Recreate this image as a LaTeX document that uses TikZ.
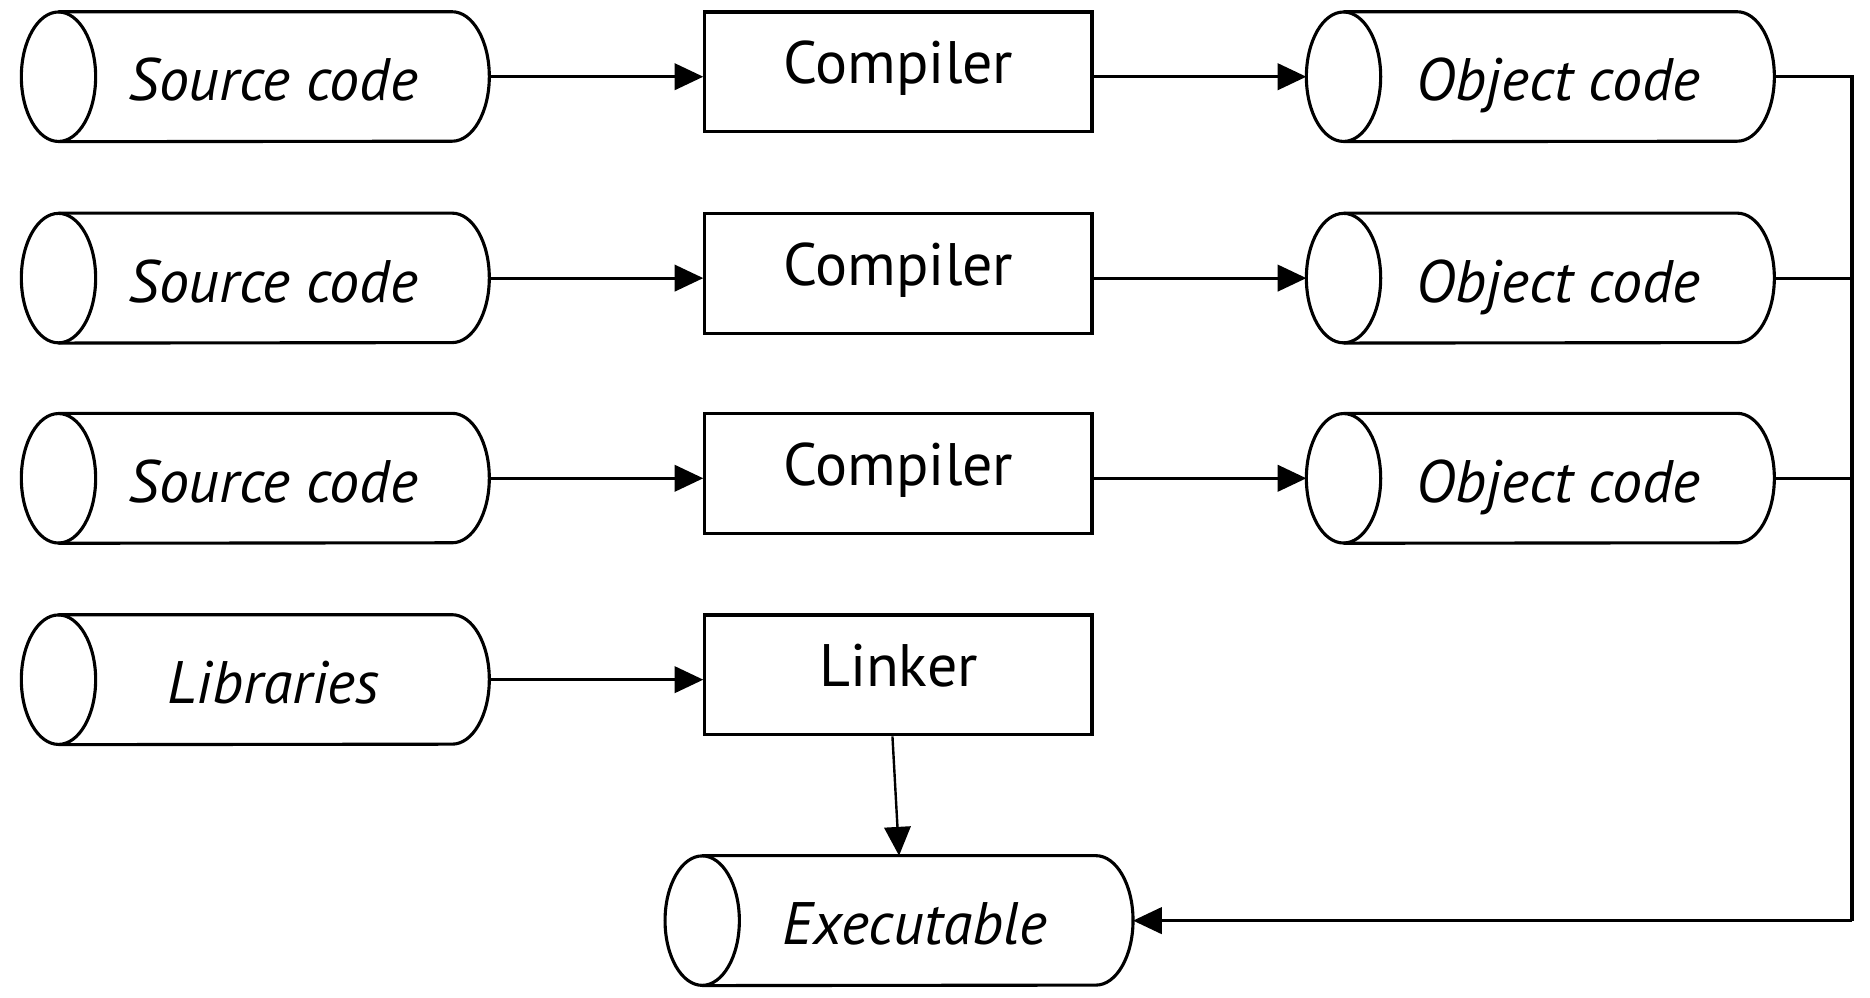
\documentclass[tikz,border=0pt]{standalone}
\usepackage{fontspec}
\setmainfont{PT Sans}
\usetikzlibrary{arrows.meta}
\tikzset{
  lw/.style={line width=2.6pt},
  cyl/.style={minimum width=390pt, minimum height=108pt, inner sep=0pt,
    text height=50pt, text depth=10pt, font=\fontsize{50}{60}\selectfont\itshape},
  box/.style={draw, lw, minimum width=323pt, minimum height=100pt, inner sep=0pt,
    text height=40pt, text depth=20pt, font=\fontsize{50}{60}\selectfont},
  arr/.style={lw, -{Triangle[length=24pt,width=22pt]}},
}
\begin{document}
\begin{tikzpicture}[x=1pt,y=1pt]
\useasboundingbox (0,0) rectangle (1560,-832.5);
% cylinders
\node[cyl] (s1) at (213,-64) {\hspace*{30pt}Source code};
\node[cyl] (s2) at (213,-232) {\hspace*{30pt}Source code};
\node[cyl] (s3) at (213,-399) {\hspace*{30pt}Source code};
\node[cyl] (lib) at (213,-567) {\hspace*{30pt}Libraries};
\node[cyl] (o1) at (1285,-64) {\hspace*{30pt}Object code};
\node[cyl] (o2) at (1285,-232) {\hspace*{30pt}Object code};
\node[cyl] (o3) at (1285,-399) {\hspace*{30pt}Object code};
\node[cyl] (exe) at (750,-768) {\hspace*{27pt}Executable};
\foreach \n in {s1,s2,s3,lib,o1,o2,o3,exe}{
  \draw[lw] ([xshift=31pt]\n.north west) -- ([xshift=-31pt]\n.north east)
     arc[start angle=90,end angle=-90,x radius=31pt,y radius=54pt]
     -- ([xshift=31pt]\n.south west);
  \draw[lw] ([xshift=31pt]\n.west) ellipse[x radius=31pt,y radius=54pt];
}
% boxes
\node[box] (c1) at (749.5,-60) {Compiler};
\node[box] (c2) at (749.5,-228) {Compiler};
\node[box] (c3) at (749.5,-395) {Compiler};
\node[box] (lk) at (749.5,-563) {Linker};
% connectors
\foreach \r in {1,2,3}{
  \draw[arr] (s\r.east) -- (s\r.east -| c\r.west);
  \draw[arr] (o\r.west -| c\r.east) -- (o\r.west);
}
\draw[arr] (lib.east) -- (lib.east -| lk.west);
\draw[arr, line width=2pt] ([xshift=-5pt]lk.south) -- (exe.north);
\coordinate (bt) at (1545,-64);
\coordinate (bb) at (1545,-768);
\draw[lw] (o1.east) -- (bt) -- (bb);
\draw[lw] (o2.east) -- (o2.east -| bt);
\draw[lw] (o3.east) -- (o3.east -| bt);
\draw[arr] (bb) -- (exe.east);
\end{tikzpicture}
\end{document}
